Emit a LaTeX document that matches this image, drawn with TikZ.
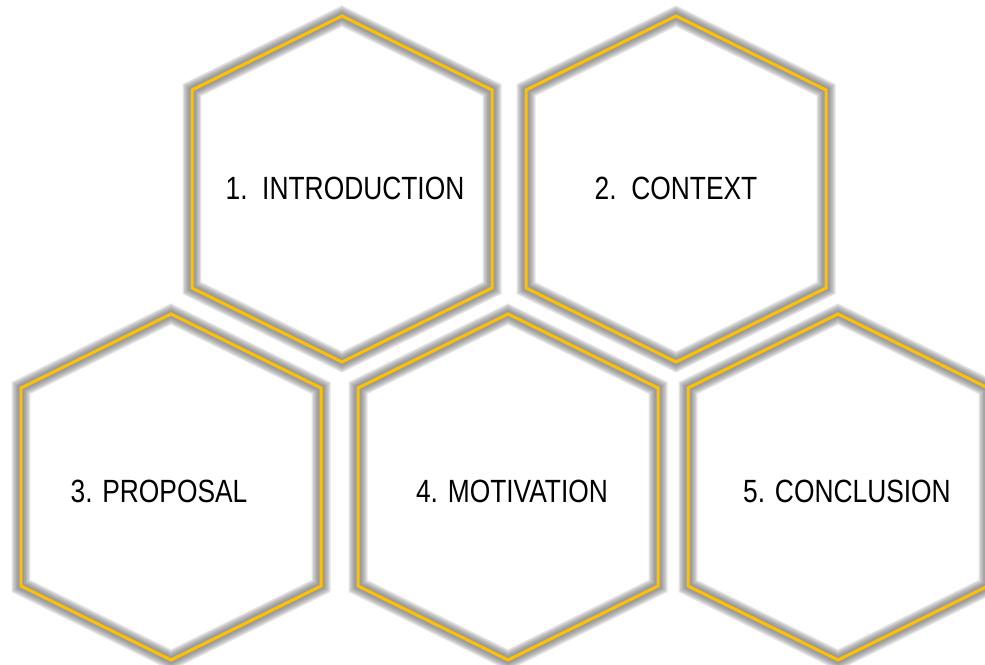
\documentclass[tikz,border=0pt]{standalone}
\usepackage{fontspec}
\setmainfont{Liberation Sans}[FakeStretch=0.82]
\usepackage{tikz}
\usetikzlibrary{positioning}
\definecolor{hexgold}{HTML}{FFC000}
\tikzset{
    hexglow/.style = {draw=gray!85!black, line join=miter, opacity=0.2},
    hexline/.style = {draw=hexgold, line width=0.06cm, line join=miter},
    hextext/.style = {font=\fontsize{18.3}{20}\selectfont, inner sep=0pt, text depth=0pt},
    hexcell/.pic = {
        \foreach \w in {0.38,0.32,0.26,0.20,0.14}
            \draw[hexglow, line width=\w cm] (0,-173) -- (150,-99) -- (150,99) -- (0,173) -- (-150,99) -- (-150,-99) -- cycle;
        \draw[hexline] (0,-173) -- (150,-99) -- (150,99) -- (0,173) -- (-150,99) -- (-150,-99) -- cycle;
    }
}

\begin{document}
\begin{tikzpicture}[x=0.02cm, y=-0.02cm]
                \useasboundingbox (0,0) rectangle (985,665);
                \clip (0,0) rectangle (985,665);

                % top row
                \pic (intro) at (342,189) {hexcell};
                \pic (context) at (676,189) {hexcell};

                % bottom row
                \pic (proposal) at (171,487) {hexcell};
                \pic (motivation) at (508,487) {hexcell};
                \pic (conclusion) at (838,487) {hexcell};

                %% labels
                \node[hextext] (introtext) at (345,188) {1.\ \ INTRODUCTION};
                \node[hextext] (contexttext) at (676,188) {2.\ \ CONTEXT};
                \node[hextext] (proposaltext) at (159,491) {3. PROPOSAL};
                \node[hextext] (motivationtext) at (512,491) {4. MOTIVATION};
                \node[hextext] (conclusiontext) at (847,491) {5. CONCLUSION};

\end{tikzpicture}
\end{document}
